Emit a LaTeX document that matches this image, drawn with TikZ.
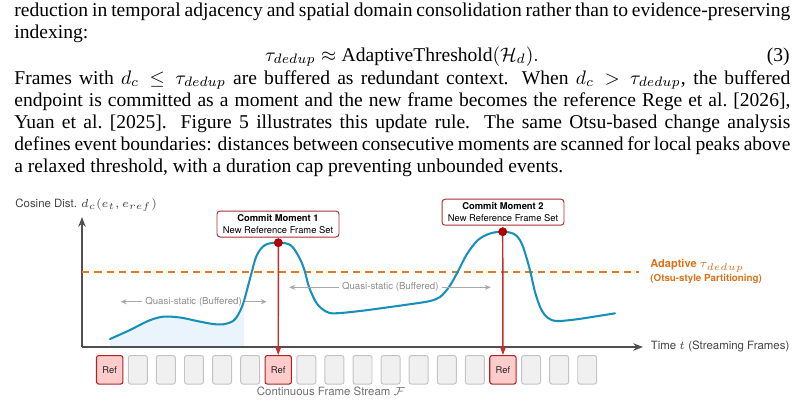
\documentclass[tikz,border=0pt]{standalone}
\usepackage{amsmath}
\usepackage{fontspec}
\setmainfont{Liberation Serif}
\newfontfamily\diagsans{TeX Gyre Heros}
\usetikzlibrary{arrows.meta}
\definecolor{axisgray}{HTML}{505050}
\definecolor{labelgray}{HTML}{444444}
\definecolor{curveblue}{HTML}{1690B8}
\definecolor{shadeblue}{HTML}{EAF4FC}
\definecolor{throrange}{HTML}{E07A1F}
\definecolor{txtorange}{HTML}{D9731B}
\definecolor{commitred}{HTML}{A83232}
\definecolor{dotred}{HTML}{B00000}
\definecolor{arrowred}{HTML}{C03030}
\definecolor{framefill}{HTML}{F0F0F0}
\definecolor{frameline}{HTML}{C4C4C4}
\definecolor{reffill}{HTML}{FFCCCC}
\definecolor{refline}{HTML}{B22222}
\definecolor{qtext}{HTML}{8C8C8C}
\definecolor{qarrowc}{HTML}{A8A8A8}
\definecolor{streamgray}{HTML}{707070}
\newcommand\fsbody{\fontsize{10pt}{11pt}\selectfont}
\newcommand\fsaxis{\diagsans\fontsize{5.85pt}{7pt}\selectfont}
\newcommand\fsq{\diagsans\fontsize{4.95pt}{6pt}\selectfont}
\newcommand\fsbox{\diagsans\fontsize{4.8pt}{6.1pt}\selectfont}
\newcommand\fsref{\diagsans\fontsize{4.8pt}{6pt}\selectfont}
\newcommand\fsada{\diagsans\bfseries\fontsize{5.65pt}{7pt}\selectfont}
\newcommand\fsotsu{\diagsans\bfseries\fontsize{5.0pt}{6pt}\selectfont}
\begin{document}
\begin{tikzpicture}[x=0.5115pt,y=-0.5115pt,
  bodyline/.style={anchor=base west,inner sep=0pt,font=\fsbody},
  axisline/.style={draw=axisgray,line width=0.8pt,-{Stealth[length=5pt,width=3.8pt]}},
  thr/.style={draw=throrange,line width=0.95pt,dash pattern=on 3.7pt off 2.6pt},
  curve/.style={draw=curveblue,line width=1.05pt,line cap=round},
  commitbox/.style={draw=commitred,fill=white,line width=0.5pt,rounded corners=1.6pt,
     minimum width=62.4pt,minimum height=13.3pt,inner sep=0.5pt,align=center,font=\fsbox,text=black},
  cdot/.style={circle,fill=dotred,minimum size=4.4pt,inner sep=0pt},
  commitarrow/.style={draw=arrowred,line width=0.75pt,-{Stealth[length=4.6pt,width=3.4pt,fill=dotred]}},
  framebox/.style={draw=frameline,fill=framefill,line width=0.5pt,rounded corners=1.2pt,
     minimum width=9.7pt,minimum height=14.6pt,inner sep=0pt},
  refbox/.style={draw=refline,fill=reffill,line width=0.55pt,rounded corners=1.2pt,
     minimum width=13.5pt,minimum height=14.6pt,inner sep=0pt,font=\fsref,text=black!85},
  qlabel/.style={inner ysep=0pt,inner xsep=1.6pt,font=\fsq,text=qtext},
  qarrow/.style={draw=qarrowc,line width=0.5pt,-{Stealth[length=3pt,width=2.6pt]}}
]
\useasboundingbox (0,0) rectangle (804,403);

% ---------------- body text ----------------
\node[bodyline] (l1) at (14,16) {\makebox[396.9pt][s]{reduction in temporal adjacency and spatial domain consolidation rather than to evidence-preserving}};
\node[bodyline] (l2) at (14,38) {indexing:};
\node[anchor=base,inner sep=0pt,font=\fsbody] (eq) at (402,61) {$\tau_{dedup} \approx \text{AdaptiveThreshold}(\mathcal{H}_d).$};
\node[anchor=base east,inner sep=0pt,font=\fsbody] (eqno) at (790,61) {(3)};
\node[bodyline] (l4) at (14,84) {\makebox[396.9pt][s]{Frames with $d_c \leq \tau_{dedup}$ are buffered as redundant context. When $d_c > \tau_{dedup}$, the buffered}};
\node[bodyline] (l5) at (14,106.5) {\makebox[396.9pt][s]{endpoint is committed as a moment and the new frame becomes the reference Rege et~al.\ [2026],}};
\node[bodyline] (l6) at (14,128.5) {\makebox[396.9pt][s]{Yuan et~al.\ [2025]. Figure 5 illustrates this update rule. The same Otsu-based change analysis}};
\node[bodyline] (l7) at (14,150.5) {\makebox[396.9pt][s]{defines event boundaries: distances between consecutive moments are scanned for local peaks above}};
\node[bodyline] (l8) at (14,172.5) {a relaxed threshold, with a duration cap preventing unbounded events.};

% ---------------- shaded buffered region ----------------
\begin{scope}
  \clip (110,200) rectangle (244,347);
  \fill[shadeblue] plot[smooth,tension=0.55] coordinates {(110,339) (130,330) (148,321) (163,316.7) (180,317.5) (197,321) (213,324) (224,324.2) (233,321) (238,315) (243,304) (247,290) (251.7,272.3) (256.7,255.5) (265,245) (278.3,242.7)} -- (278.3,347) -- (110,347) -- cycle;
\end{scope}

% ---------------- axes ----------------
\coordinate (O) at (82,347);
\coordinate (ytip) at (82,217);
\coordinate (xtip) at (643,347);
\draw[axisline] (O) -- (ytip);
\draw[axisline] (O) -- (xtip);
\node[anchor=west,inner sep=0pt,font=\fsaxis,text=labelgray] (ylab) at (15,205) {Cosine Dist. $d_c(e_t, e_{ref})$};
\node[anchor=west,inner sep=0pt,font=\fsaxis,text=labelgray] (xlab) at (650.5,346.7) {Time $t$ (Streaming Frames)};

% ---------------- threshold ----------------
\coordinate (th0) at (82,272);
\coordinate (th1) at (639,272);
\draw[thr] (th0) -- (th1);
\node[anchor=west,inner sep=0pt,font=\fsada,text=txtorange] (ada) at (650,266) {Adaptive $\tau_{dedup}$};
\node[anchor=west,inner sep=0pt,font=\fsotsu,text=txtorange] (otsu) at (650,279.3) {(Otsu-style Partitioning)};

% ---------------- distance curve ----------------
\draw[curve] plot[smooth,tension=0.55] coordinates {(110,339) (130,330) (148,321) (163,316.7) (180,317.5) (197,321) (213,324) (224,324.2) (233,321) (238,315) (243,304) (247,290) (251.7,272.3) (256.7,255.5) (265,245) (278.3,242.7) (291,245.5) (300,259) (305,272) (309,287) (316.7,303.3) (326,311.5) (335,313.3) (360,311) (390,307) (415,303.5) (430,301) (440,297) (449,287) (457.5,272.3) (467,254) (478,240) (490,233.5) (502.7,231.7) (514,234) (521,242) (526,256) (530.5,272.3) (535,292) (541,309) (548,318) (557,321) (575,319.5) (595,316.5) (615,313.3)};

% ---------------- quasi-static labels ----------------
\node[qlabel] (q1) at (193.5,301.7) {Quasi-static (Buffered)};
\coordinate (q1l) at (120.7,301.7);
\coordinate (q1r) at (266.7,301.7);
\draw[qarrow] (q1.west) -- (q1l);
\draw[qarrow] (q1.east) -- (q1r);
\node[qlabel] (q2) at (390.3,287.3) {Quasi-static (Buffered)};
\coordinate (q2l) at (289.3,287.3);
\coordinate (q2r) at (490.7,287.3);
\draw[qarrow] (q2.west) -- (q2l);
\draw[qarrow] (q2.east) -- (q2r);

% ---------------- frame stream ----------------
\foreach \k in {1,2,3,4,5,7,8,9,10,11,12,13,15,16,17}
  \node[framebox] (f\k) at ({109.7+28.09*\k},369.8) {};
\foreach \k in {0,6,14}
  \node[refbox] (f\k) at ({109.7+28.09*\k},369.8) {Ref};
\node[inner sep=0pt,font=\fsaxis,text=streamgray] (stream) at (331,391.7) {Continuous Frame Stream $\mathcal{F}$};

% ---------------- commit moments ----------------
\node[cdot] (p1) at (278.3,242.7) {};
\node[cdot] (p2) at (502.7,231.7) {};
\draw[commitarrow] (p1.center) -- (f6.north);
\draw[commitarrow] (p2.center) -- (f14.north);
\node[cdot] at (p1) {};
\node[cdot] at (p2) {};
\node[commitbox] (c1) at (278,224) {{\bfseries Commit Moment 1}\\New Reference Frame Set};
\node[commitbox] (c2) at (503,212.2) {{\bfseries Commit Moment 2}\\New Reference Frame Set};
\end{tikzpicture}
\end{document}
